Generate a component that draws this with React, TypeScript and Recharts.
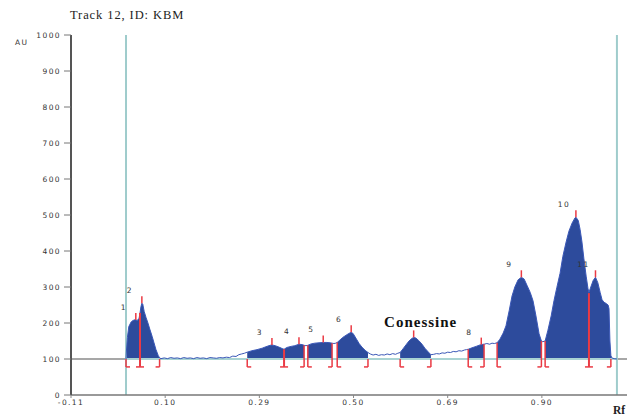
import React from 'react';
import { ComposedChart, Area, Line, XAxis, YAxis, ReferenceLine, Scatter } from 'recharts';

// Densitogram signal: [Rf, AU]
const signal: [number, number][] = [
  [0.008, 100], [0.009, 125], [0.011, 160], [0.014, 190], [0.019, 203], [0.023, 207], [0.027, 209],
  [0.029, 208], [0.032, 207], [0.036, 213], [0.038, 227], [0.040, 245], [0.042, 255], [0.044, 252],
  [0.047, 232], [0.051, 215], [0.055, 200], [0.059, 183], [0.064, 163], [0.068, 145], [0.072, 127],
  [0.077, 110], [0.080, 103],
  [0.083, 101], [0.090, 103], [0.097, 101], [0.104, 104], [0.111, 102], [0.118, 103], [0.125, 101],
  [0.132, 104], [0.139, 102], [0.146, 103], [0.153, 101], [0.160, 104], [0.167, 102], [0.174, 103],
  [0.181, 101], [0.188, 104], [0.195, 103], [0.202, 102], [0.209, 104], [0.216, 103], [0.223, 105],
  [0.230, 104], [0.237, 108], [0.244, 107], [0.250, 112], [0.256, 114], [0.262, 116],
  [0.268, 119], [0.278, 123], [0.289, 126], [0.300, 130], [0.308, 134], [0.317, 138], [0.321, 139],
  [0.328, 137], [0.336, 133], [0.343, 129], [0.347, 127],
  [0.353, 132], [0.362, 135], [0.370, 137], [0.379, 141], [0.386, 140], [0.390, 138],
  [0.394, 137],
  [0.398, 138], [0.405, 142], [0.413, 144], [0.422, 145], [0.431, 146], [0.439, 146], [0.446, 145],
  [0.450, 144],
  [0.454, 143], [0.458, 144],
  [0.461, 146], [0.467, 153], [0.473, 160], [0.480, 166], [0.486, 171], [0.491, 174], [0.495, 171],
  [0.501, 158], [0.508, 143], [0.514, 133], [0.521, 124], [0.527, 118],
  [0.532, 114], [0.538, 111], [0.544, 113], [0.550, 110], [0.556, 112], [0.562, 111], [0.568, 114],
  [0.574, 112], [0.580, 115], [0.586, 113], [0.591, 116],
  [0.596, 118], [0.602, 128], [0.609, 140], [0.615, 150], [0.621, 157], [0.625, 160], [0.630, 158],
  [0.636, 151], [0.643, 141], [0.649, 130], [0.656, 120], [0.662, 112],
  [0.668, 113], [0.674, 115], [0.680, 114], [0.686, 117], [0.692, 116], [0.698, 119], [0.704, 118],
  [0.710, 121], [0.716, 120], [0.722, 123], [0.728, 122], [0.734, 125], [0.738, 126],
  [0.742, 127], [0.750, 131], [0.759, 135], [0.767, 139], [0.774, 141], [0.776, 141],
  [0.782, 143], [0.788, 141], [0.793, 144], [0.798, 143],
  [0.804, 145], [0.810, 155], [0.817, 172], [0.823, 192], [0.830, 235], [0.836, 275], [0.842, 300],
  [0.849, 320], [0.856, 327], [0.862, 322], [0.868, 305], [0.875, 285], [0.881, 262], [0.887, 222],
  [0.894, 170], [0.899, 150],
  [0.902, 148],
  [0.907, 150], [0.913, 180], [0.920, 220], [0.926, 262], [0.932, 298], [0.939, 338], [0.945, 385],
  [0.952, 425], [0.958, 455], [0.965, 478], [0.971, 492], [0.973, 494], [0.978, 485], [0.982, 460],
  [0.986, 425], [0.990, 380], [0.995, 330], [0.999, 295], [1.001, 285],
  [1.005, 300], [1.010, 318], [1.015, 327], [1.020, 312], [1.025, 285], [1.029, 265], [1.033, 258],
  [1.038, 254], [1.042, 250], [1.044, 240], [1.046, 150], [1.048, 110], [1.050, 103],
  [1.055, 101], [1.061, 100],
];

const peakNames = ['1', '2', '3', '4', '5', '6', 'Conessine', '8', '9', '10', '11'];
const peakStartRf = [0.008, 0.038, 0.268, 0.347, 0.398, 0.461, 0.596, 0.742, 0.804, 0.907, 1.001];
const peakEndRf = [0.038, 0.080, 0.347, 0.390, 0.450, 0.527, 0.662, 0.776, 0.899, 1.001, 1.050];
const apexRf = [0.029, 0.042, 0.321, 0.379, 0.431, 0.491, 0.625, 0.770, 0.856, 0.973, 1.015];
const apexAu = [208, 255, 139, 141, 146, 174, 160, 140, 327, 494, 327];

const boundaryRf = [0.008, 0.038, 0.080, 0.268, 0.347, 0.390, 0.398, 0.450, 0.461, 0.527, 0.596, 0.662, 0.742, 0.776, 0.804, 0.899, 0.907, 1.001, 1.048];
const boundaryKind = ['start', 'split', 'end', 'start', 'split', 'end', 'start', 'end', 'start', 'end', 'start', 'end', 'start', 'end', 'start', 'end', 'start', 'split', 'end'];
const boundaryTopAu = [100, 228, 100, 100, 127, 138, 138, 144, 146, 100, 100, 100, 127, 141, 145, 150, 150, 283, 100];

const trackEdgeRf = [0.008, 1.061];
const xTickValues = [-0.11, 0.092, 0.294, 0.496, 0.698, 0.9];
const xTickLabels = ['-0.11', '0.10', '0.29', '0.50', '0.69', '0.90'];
const yTicks = [0, 100, 200, 300, 400, 500, 600, 700, 800, 900, 1000];

const BASELINE_AU = 100;
const BRACKET_AU = 78;
const RED = '#ea3a44';
const FILL = '#2d4b9c';

const inPeak = (rf: number) =>
  peakStartRf.some((s, i) => rf >= s - 1e-9 && rf <= peakEndRf[i] + 1e-9);

const data = signal.map(([rf, au]) => ({ rf, au, fill: inPeak(rf) ? au : null }));
const apexData = apexRf.map((rf, i) => ({ rf, au: apexAu[i], name: peakNames[i] }));
const bracketData = boundaryRf.map((rf, i) => ({ rf, au: BRACKET_AU, kind: boundaryKind[i] }));

const tickFont = { fontSize: 7.5, fill: '#333', fontFamily: 'DejaVu Sans', letterSpacing: 1.4 };

const renderApex = (p: any) => {
  const { cx, cy, payload } = p;
  const long = payload.name.length > 2;
  return (
    <g>
      <line x1={cx} y1={cy} x2={cx} y2={cy - 7} stroke={RED} strokeWidth={1.5} />
      {long ? (
        <text x={cx + 7} y={cy - 10} textAnchor="middle" fontFamily="Liberation Serif" fontWeight="bold"
          fontSize={15} letterSpacing={1} fill="#111">{payload.name}</text>
      ) : (
        <text x={cx - 12} y={cy - 10} textAnchor="middle" {...tickFont}>{payload.name}</text>
      )}
    </g>
  );
};

const renderBracket = (p: any) => {
  const { cx, cy, payload } = p;
  let d = '';
  if (payload.kind === 'start') d = `M${cx},${cy} L${cx + 4},${cy}`;
  else if (payload.kind === 'end') d = `M${cx - 4},${cy} L${cx},${cy}`;
  else d = `M${cx - 4},${cy} L${cx + 4},${cy}`;
  return <path d={d} stroke={RED} strokeWidth={1.5} fill="none" />;
};

export default function App() {
  return (
    <div style={{ position: 'absolute', left: 0, top: 0, width: 630, height: 416, background: '#fff' }}>
      <ComposedChart width={630} height={416} data={data} margin={{ top: 35, right: 3, bottom: 0, left: 0 }}>
        <XAxis dataKey="rf" type="number" domain={[-0.11, 1.0826]} ticks={xTickValues} interval={0}
          allowDataOverflow height={21} tickSize={3} tickMargin={2}
          tickFormatter={(v: number) => xTickLabels[xTickValues.indexOf(v)]}
          axisLine={{ stroke: '#777', strokeWidth: 1.5 }} tickLine={{ stroke: '#888' }} tick={tickFont} />
        <YAxis type="number" domain={[0, 1000]} ticks={yTicks} interval={0} width={71} tickSize={7} tickMargin={3}
          axisLine={{ stroke: '#555', strokeWidth: 2 }} tickLine={{ stroke: '#777' }} tick={tickFont} />
        <ReferenceLine y={BASELINE_AU} stroke="#8a8a8a" strokeWidth={1.5} />
        <ReferenceLine segment={[{ x: trackEdgeRf[0], y: BASELINE_AU }, { x: trackEdgeRf[1], y: BASELINE_AU }]}
          stroke="#a9d3d3" strokeWidth={2} />
        {trackEdgeRf.map((rf) => (
          <ReferenceLine key={'edge' + rf} x={rf} stroke="#9fcccc" strokeWidth={2} />
        ))}
        <Line dataKey="au" type="linear" stroke="#3b58b8" strokeWidth={1} dot={false} isAnimationActive={false} />
        <Area dataKey="fill" type="linear" baseValue={BASELINE_AU} stroke="none" fill={FILL} fillOpacity={1}
          connectNulls={false} isAnimationActive={false} />
        {boundaryRf.map((rf, i) => (
          <ReferenceLine key={'b' + i} segment={[{ x: rf, y: BRACKET_AU }, { x: rf, y: boundaryTopAu[i] }]}
            stroke={RED} strokeWidth={boundaryKind[i] === 'split' ? 2 : 1.5} />
        ))}
        <Scatter data={bracketData} dataKey="au" shape={renderBracket} isAnimationActive={false} />
        <Scatter data={apexData} dataKey="au" shape={renderApex} isAnimationActive={false} />
      </ComposedChart>
      <svg width={630} height={416} style={{ position: 'absolute', left: 0, top: 0, pointerEvents: 'none' }}>
        <text x={70} y={18.5} fontFamily="Liberation Serif" fontSize={12.5} letterSpacing={0.9} fill="#222">Track 12, ID: KBM</text>
        <text x={15} y={45} {...tickFont}>AU</text>
        <text x={613} y={413.5} fontFamily="Liberation Serif" fontWeight="bold" fontSize={11.5} fill="#222">Rf</text>
      </svg>
    </div>
  );
}
